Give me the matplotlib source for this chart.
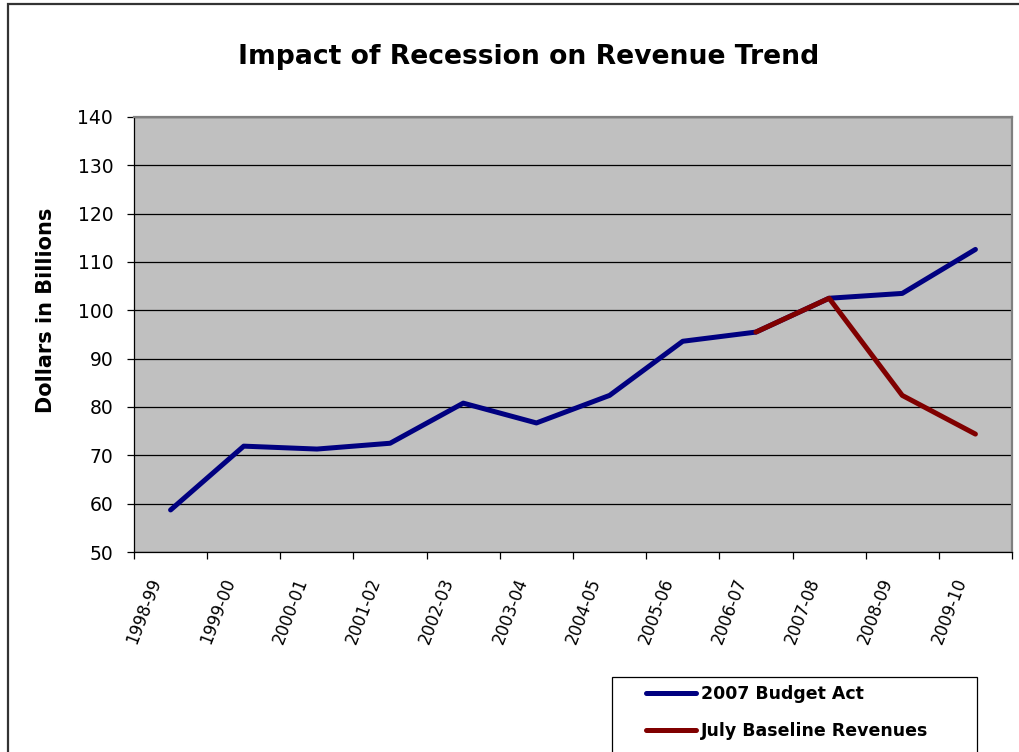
import numpy as np
import matplotlib
matplotlib.use('Agg')
import matplotlib.pyplot as plt
import matplotlib.transforms as mtransforms
from matplotlib.patches import Rectangle

years = ['1998-99', '1999-00', '2000-01', '2001-02', '2002-03', '2003-04',
         '2004-05', '2005-06', '2006-07', '2007-08', '2008-09', '2009-10']
budget_act = [58.7, 71.9, 71.3, 72.5, 80.8, 76.7, 82.4, 93.6, 95.5, 102.5, 103.5, 112.6]
july_baseline = [np.nan] * 8 + [95.5, 102.5, 82.4, 74.4]

plt.rcParams['font.family'] = 'DejaVu Sans'

fig = plt.figure(figsize=(10.19, 7.52), dpi=100)
ax = fig.add_axes([134 / 1019, 1 - 552 / 752, (1012 - 134) / 1019, (552 - 117) / 752])
ax.set_facecolor('#C0C0C0')

x = np.arange(len(years))
ax.plot(x, budget_act, color='#000080', lw=3.6, solid_capstyle='round',
        solid_joinstyle='round', label='2007 Budget Act', zorder=3)
ax.plot(x, july_baseline, color='#800000', lw=3.6, solid_capstyle='round',
        solid_joinstyle='round', label='July Baseline Revenues', zorder=4)

ax.set_ylim(50, 140)
ax.set_yticks(np.arange(50, 141, 10))
ax.yaxis.grid(True, color='black', lw=0.9)
ax.set_axisbelow(True)
ax.tick_params(axis='y', direction='out', length=5, width=0.9, pad=10, labelsize=13.5)

ax.set_xlim(-0.5, len(years) - 0.5)
ax.set_xticks(np.arange(-0.5, len(years)), labels=[])
ax.set_xticks(x, minor=True)
ax.set_xticklabels(years, minor=True, rotation=69, ha='right', va='center',
                   rotation_mode='anchor', fontsize=12)
ax.tick_params(axis='x', which='major', direction='out', length=5, width=0.9)
ax.tick_params(axis='x', which='minor', length=0, pad=19)
shift = mtransforms.ScaledTranslation(-14 / 100, 0, fig.dpi_scale_trans)
for lab in ax.get_xticklabels(minor=True):
    lab.set_transform(lab.get_transform() + shift)

for s in ['left', 'bottom']:
    ax.spines[s].set_color('black')
    ax.spines[s].set_linewidth(0.9)
for s in ['top', 'right']:
    ax.spines[s].set_color('#808080')
    ax.spines[s].set_linewidth(1.6)

ax.set_ylabel('Dollars in Billions', fontsize=15, fontweight='bold', va='center')
ax.yaxis.set_label_coords((46 - 134) / 878, (552 - 310) / 435)

fig.text(529 / 1019, 1 - 57 / 752, 'Impact of Recession on Revenue Trend',
         ha='center', va='center', fontsize=19.2, fontweight='bold')

# figure border (cut off at right and bottom)
fig.patches.append(Rectangle((8 / 1019, -0.2), 1.2, 1.2 - 4 / 752,
                             transform=fig.transFigure, fill=False,
                             edgecolor='#333333', lw=1.6))

# legend box
fig.patches.append(Rectangle((612 / 1019, -0.05), (977 - 612) / 1019, 0.05 + 1 - 677 / 752,
                             transform=fig.transFigure, fill=True, facecolor='white',
                             edgecolor='black', lw=0.9, zorder=5))
leg = fig.legend(loc='upper left', bbox_to_anchor=(646 / 1019, 1 - 685 / 752),
                 frameon=False, borderpad=0, borderaxespad=0, handlelength=2.9,
                 handletextpad=0.25, labelspacing=1.1,
                 prop={'size': 12.5, 'weight': 'bold'})
leg.set_zorder(6)

fig.savefig('out.png', dpi=100)
